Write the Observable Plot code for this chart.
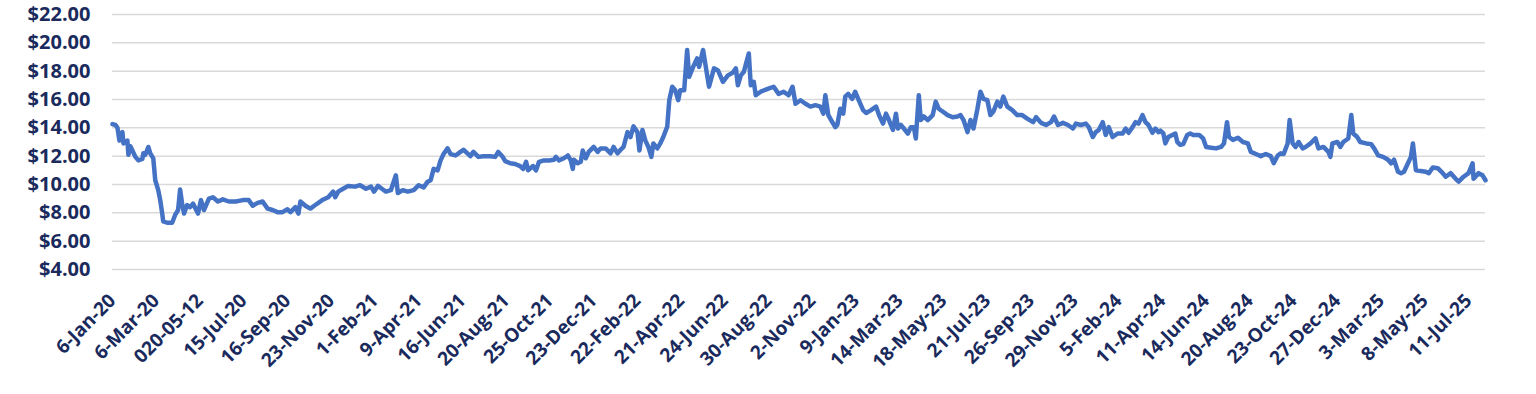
<!DOCTYPE html>
<html>
<head>
<meta charset="utf-8">
<script src="https://cdn.jsdelivr.net/npm/d3@7"></script>
<script src="https://cdn.jsdelivr.net/npm/@observablehq/plot@0.6"></script>
<style>
  html, body { margin: 0; padding: 0; background: #ffffff; overflow: hidden; }
  #chart svg { display: block; }
  #chart svg text { font-weight: 700; }
</style>
</head>
<body>
<div id="chart"></div>
<script>
// Category-axis tick labels (one every 44 trading days)
const tickLabels = ["6-Jan-20","6-Mar-20","020-05-12","15-Jul-20","16-Sep-20","23-Nov-20","1-Feb-21","9-Apr-21","16-Jun-21","20-Aug-21","25-Oct-21","23-Dec-21","22-Feb-22","21-Apr-22","24-Jun-22","30-Aug-22","2-Nov-22","9-Jan-23","14-Mar-23","18-May-23","21-Jul-23","26-Sep-23","29-Nov-23","5-Feb-24","11-Apr-24","14-Jun-24","20-Aug-24","23-Oct-24","27-Dec-24","3-Mar-25","8-May-25","11-Jul-25"];
const daysPerLabel = 44;
const lastTradingDay = 1381;

// Y axis tick values
const priceTicks = [4, 6, 8, 10, 12, 14, 16, 18, 20, 22];

// [trading day index, close price]
const series2020 = [[0,14.26],[3,14.2],[5,14.0],[7,13.1],[10,13.7],[11,12.9],[15,13.1],[16,12.1],[18,12.7],[20,12.4],[23,11.95],[26,11.7],[30,11.8],[31,12.2],[33,12.1],[36,12.65],[38,12.2],[41,11.85],[43,10.3],[46,9.6],[48,8.9],[50,7.95],[51,7.4],[55,7.3],[60,7.3],[63,7.85],[66,8.2],[68,9.65],[70,8.65],[72,7.95],[75,8.55],[78,8.4],[81,8.65],[86,7.95],[89,8.9],[92,8.2],[97,9.0],[101,9.1],[106,8.8],[111,8.95],[117,8.8],[124,8.8],[131,8.9],[137,8.9],[141,8.5],[146,8.7],[151,8.8],[156,8.3],[161,8.2],[166,8.05],[171,8.05],[176,8.25],[179,8.05],[184,8.4],[187,7.95],[189,8.8],[194,8.5],[199,8.3],[204,8.55],[211,8.9],[217,9.1],[222,9.5],[224,9.1],[227,9.5],[232,9.7],[237,9.9],[244,9.85],[249,9.95],[255,9.7],[260,9.85],[263,9.5],[267,9.9],[272,9.65],[275,9.5]];

const series2021_22 = [[280,9.6],[285,10.65],[287,9.4],[292,9.6],[297,9.5],[303,9.6],[308,9.95],[313,9.8],[317,10.2],[320,10.3],[323,11.1],[327,11.0],[330,11.7],[333,12.15],[337,12.55],[340,12.15],[345,12.05],[350,12.3],[353,12.45],[357,12.2],[360,12.0],[363,12.3],[368,11.95],[373,12.0],[380,12.0],[385,11.95],[388,12.3],[392,12.0],[395,11.65],[400,11.5],[405,11.45],[410,11.3],[413,11.1],[416,11.6],[418,11.0],[423,11.3],[426,11.0],[429,11.6],[434,11.7],[439,11.7],[444,11.75],[446,11.95],[449,11.7],[454,11.85],[458,12.05],[461,11.7],[463,11.1],[464,11.75],[468,11.5],[471,11.6],[473,12.4],[476,11.85],[479,12.3],[484,12.65],[488,12.3],[491,12.55],[496,12.55],[501,12.2],[504,12.65],[508,12.2],[511,12.45],[514,12.65],[518,13.7],[521,13.35],[524,14.1],[528,13.7],[530,12.4],[533,13.85],[536,13.1],[539,12.65],[542,11.95],[544,12.9],[548,12.55],[551,12.9],[554,13.35],[558,14.1],[560,15.95],[563,16.9],[566,16.65],[569,15.95],[571,16.65],[575,16.65],[578,19.5],[580,17.6],[584,18.3],[588,18.9],[590,18.3],[594,19.5],[597,18.2],[600,16.9],[605,18.2],[609,18.05],[614,17.25],[619,17.7],[624,17.9],[627,18.2],[629,17.0],[632,17.7],[635,17.95],[640,19.25],[642,17.0],[645,17.25],[647,16.3],[652,16.55]];

const series2022_24 = [[659,16.75],[665,16.9],[670,16.4],[675,16.55],[680,16.3],[684,16.9],[687,15.7],[692,15.95],[697,15.7],[702,15.5],[707,15.6],[712,15.5],[715,15.0],[717,16.3],[720,14.9],[724,14.4],[727,14.05],[729,14.2],[732,15.35],[735,15.0],[737,16.2],[740,16.4],[744,16.05],[747,16.55],[750,16.05],[755,15.25],[758,15.05],[763,15.25],[768,15.5],[771,14.9],[775,14.3],[778,15.0],[781,14.55],[785,13.85],[788,15.0],[790,13.95],[793,14.2],[796,13.95],[800,13.6],[803,14.05],[806,14.05],[808,13.25],[811,16.3],[813,14.55],[816,14.8],[820,14.55],[825,14.9],[828,15.85],[831,15.35],[835,15.15],[840,14.9],[845,14.75],[850,14.8],[853,14.9],[856,14.55],[860,13.7],[863,14.55],[866,13.95],[870,15.35],[873,16.55],[876,16.05],[880,15.95],[883,14.9],[886,15.15],[890,15.85],[893,15.5],[896,16.2],[900,15.5],[905,15.25],[910,14.9],[915,14.9],[920,14.65],[926,14.4],[929,14.75],[934,14.35],[939,14.2],[944,14.4],[947,14.8],[951,14.2],[956,14.35],[961,14.2],[966,13.95],[969,14.3],[974,14.2],[979,14.3],[982,14.05],[986,13.35],[989,13.7],[992,13.85],[996,14.4],[999,13.5],[1002,14.05],[1006,13.35],[1011,13.6],[1016,13.6],[1019,13.95],[1022,13.65],[1026,14.05],[1029,14.4],[1032,14.3],[1036,14.9],[1039,14.4],[1042,14.2],[1046,13.65],[1049,13.95],[1052,13.7]];

const series2024_25 = [[1054,13.8],[1057,13.6],[1059,12.9],[1062,13.35],[1066,13.5],[1069,13.6],[1071,13.0],[1074,12.8],[1077,12.85],[1081,13.5],[1084,13.6],[1087,13.5],[1093,13.5],[1097,13.25],[1100,12.65],[1105,12.6],[1110,12.55],[1115,12.65],[1118,12.9],[1121,14.4],[1123,13.35],[1127,13.15],[1132,13.3],[1137,13.0],[1142,12.9],[1145,12.3],[1150,12.15],[1155,12.0],[1160,12.15],[1165,12.0],[1168,11.5],[1172,12.05],[1175,12.2],[1178,12.15],[1182,12.9],[1184,14.55],[1187,12.9],[1190,12.65],[1193,13.0],[1197,12.55],[1200,12.65],[1205,12.9],[1210,13.25],[1213,12.55],[1218,12.65],[1223,12.3],[1225,11.95],[1227,12.9],[1232,13.0],[1235,12.65],[1238,13.0],[1243,13.25],[1246,14.9],[1248,13.6],[1252,13.35],[1255,13.0],[1261,12.9],[1266,12.85],[1269,12.55],[1273,12.05],[1278,11.95],[1283,11.75],[1286,11.5],[1289,11.75],[1293,10.9],[1296,10.8],[1299,10.9],[1303,11.5],[1306,11.95],[1308,12.9],[1311,11.0],[1316,10.95],[1321,10.9],[1324,10.8],[1328,11.2],[1333,11.15],[1338,10.8],[1341,10.55],[1346,10.8],[1351,10.4],[1354,10.2],[1359,10.55],[1364,10.8],[1368,11.5],[1369,10.4],[1374,10.8],[1378,10.65],[1381,10.3]];

const data = [...series2020, ...series2021_22, ...series2022_24, ...series2024_25]
  .map(([day, price]) => ({day, price}));

const tickDays = tickLabels.map((_, i) => i * daysPerLabel);
const labelColor = "#1a2a5c";
const font = "'Open Sans', 'Liberation Sans', sans-serif";

const chart = Plot.plot({
  width: 1536,
  height: 394,
  marginTop: 14,
  marginBottom: 125,
  marginLeft: 112,
  marginRight: 51,
  style: {fontFamily: font, background: "#ffffff", color: labelColor},
  x: {type: "linear", domain: [0, lastTradingDay]},
  y: {domain: [4, 22]},
  marks: [
    Plot.gridY(priceTicks, {stroke: "#d9d9d9", strokeOpacity: 1, strokeWidth: 1.5}),
    Plot.axisY(priceTicks, {
      tickSize: 0, tickPadding: 22, tickFormat: d3.format("$.2f"),
      fontSize: 20, fontWeight: "bold", fill: labelColor, label: null
    }),
    Plot.axisX(tickDays, {
      tickSize: 0, tickPadding: 28, tickRotate: -45,
      tickFormat: (d) => tickLabels[Math.round(d / daysPerLabel)],
      fontSize: 19, fontWeight: "bold", fill: labelColor, label: null
    }),
    Plot.line(data, {x: "day", y: "price", stroke: "#4472c4", strokeWidth: 4.5, strokeLinejoin: "round", strokeLinecap: "round"})
  ]
});
document.getElementById("chart").appendChild(chart);
</script>
</body>
</html>
